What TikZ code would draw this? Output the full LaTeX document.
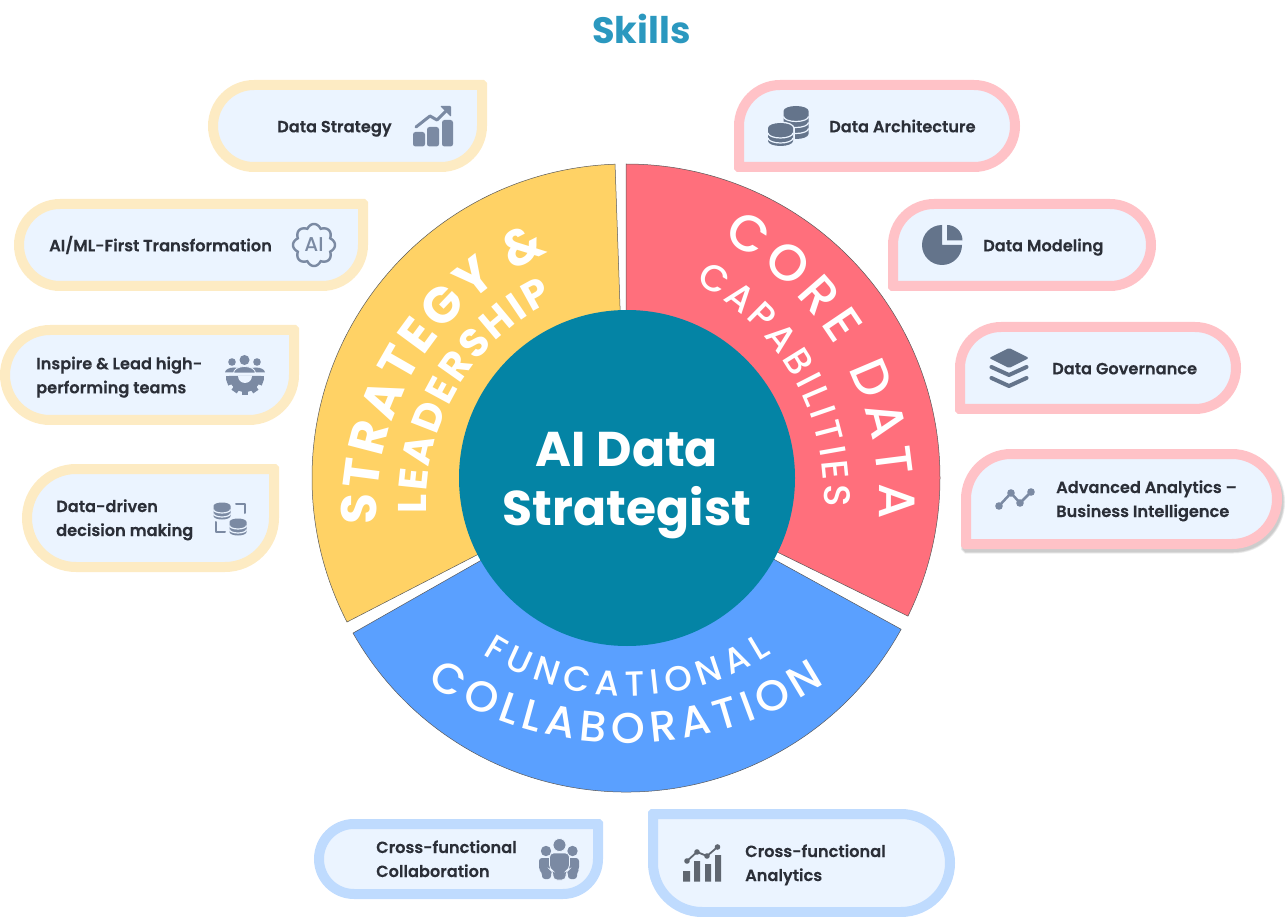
\documentclass[tikz,border=0pt]{standalone}
\usepackage{fontspec}
\setmainfont{Poppins}
\newfontfamily\semib[FakeBold=0.2]{Poppins SemiBold}
\newfontfamily\medi{Poppins Medium}
\usetikzlibrary{decorations.text}
\definecolor{inkc}{HTML}{2B2F38}
\definecolor{panel}{HTML}{EBF4FF}
\definecolor{ybord}{HTML}{FDEBC3}
\definecolor{rbord}{HTML}{FFC2C7}
\definecolor{bbord}{HTML}{BFDBFE}
\definecolor{iconA}{HTML}{7B8AA3}
\definecolor{iconB}{HTML}{64748B}
\definecolor{iconC}{HTML}{5F6670}
\definecolor{secY}{HTML}{FFD265}
\definecolor{secR}{HTML}{FF6F7C}
\definecolor{secB}{HTML}{5AA0FF}
\definecolor{hub}{HTML}{0484A5}
\definecolor{titlec}{HTML}{2B98BF}
\tikzset{
  pill/.style={line width=10pt,fill=panel,line join=miter},
  label/.style={font=\semib\fontsize{16.2}{24}\selectfont,text=inkc,anchor=base west,inner sep=0pt,align=left},
  sector/.style={draw=black!65,line width=0.5pt},
  curved/.style={decorate,decoration={text along path,text color=white,text align={fit to path},text={#1}}},
}
\newcommand\pillpath[8]{({#1+#5},{-#2}) -- ({#3-#6},{-#2}) arc[start angle=90,end angle=0,radius=#6 pt] -- (#3,{-#4+#7}) arc[start angle=0,end angle=-90,radius=#7 pt] -- ({#1+#8},{-#4}) arc[start angle=-90,end angle=-180,radius=#8 pt] -- (#1,{-#2-#5}) arc[start angle=180,end angle=90,radius=#5 pt] -- cycle}
\newcommand\coin[7]{%
  \fill[#7] ({#1-#3},{-#2}) -- ({#1-#3},{-#2-#5}) arc[start angle=180,end angle=360,x radius=#3 pt,y radius=#4 pt] -- ({#1+#3},{-#2}) arc[start angle=0,end angle=180,x radius=#3 pt,y radius=#4 pt] -- cycle;
  \foreach \k in {#6} \draw[panel,line width=1.2pt] ({#1-#3},{-#2-\k}) arc[start angle=180,end angle=360,x radius=#3 pt,y radius=#4 pt];
}
\newcommand\arctext[6]{\path[shift={(#1,-#2)},curved={#6}] (#4:#3 pt) arc[start angle=#4,end angle=#5,radius=#3 pt];}
\newcommand\strongtype{\fontsize{50}{50}\selectfont\bfseries}
\newcommand\strongsub{\fontsize{40}{40}\selectfont\bfseries}
\newcommand\bigtype{\medi\fontsize{51}{51}\selectfont}
\newcommand\subtype{\medi\fontsize{37}{37}\selectfont}
\newcommand\bluetop{\medi\fontsize{35}{35}\selectfont}
\newcommand\bluebig{\medi\fontsize{43}{43}\selectfont}
\begin{document}
\begin{tikzpicture}[x=1pt,y=1pt]
\useasboundingbox (0,0) rectangle (1286,-917);
\node[font=\bfseries\fontsize{36.7}{36}\selectfont,text=titlec,anchor=base] (title) at (641.5,-44) {Skills};

% ring
\begin{scope}[shift={(626,-478)}]
  \draw[sector,fill=secY] (92:314pt) arc[start angle=92,end angle=207.3,radius=314pt] -- (0,0) -- cycle;
  \draw[sector,fill=secR] (90:314pt) arc[start angle=90,end angle=-26.1,radius=314pt] -- (0,0) -- cycle;
  \draw[sector,fill=secB] (209.6:314pt) arc[start angle=209.6,end angle=331.2,radius=314pt] -- (0,0) -- cycle;
\end{scope}
\arctext{658}{512}{281}{182.6}{113}{|\strongtype|STRATEGY {\&}}
\arctext{651}{504}{225}{182.4}{115.6}{|\strongsub|LEADERSHIP}
\arctext{584}{500}{295}{62.1}{-3.7}{|\bigtype|CORE DATA}
\arctext{587}{494}{237}{62.9}{-3}{|\subtype|CAPABILITIES}
\arctext{627}{426}{270}{237.6}{302.4}{|\bluetop|FUNCATIONAL}
\arctext{626}{381}{362}{236.6}{303.4}{|\bluebig|COLLABORATION}
\node[circle,fill=hub,minimum size=336pt,inner sep=0pt] (hubnode) at (627,-478) {};
\node[text=white,font=\fontsize{48.8}{59}\selectfont\bfseries,align=center,inner sep=0pt] (hubtext) at (627,-486) {AI Data\\Strategist};

% pills yellow
\draw[pill,draw=ybord] \pillpath{213}{85}{482}{167}{41}{0.01}{41}{41};
\draw[pill,draw=ybord] \pillpath{19}{204}{363}{286}{41}{0.01}{41}{41};
\draw[pill,draw=ybord] \pillpath{5}{330}{294}{420}{45}{0.01}{45}{45};
\draw[pill,draw=ybord] \pillpath{27}{469}{274}{567}{49}{0.01}{49}{49};
% pills red
\draw[pill,draw=rbord] \pillpath{739}{85}{1015}{167}{41}{41}{41}{0.01};
\draw[pill,draw=rbord] \pillpath{893}{204}{1151}{286}{41}{41}{41}{0.01};
\draw[pill,draw=rbord] \pillpath{960}{327}{1236}{409}{41}{41}{41}{0.01};
\foreach \w in {13,11.5,10} \draw[black,opacity=0.07,line width=\w pt,line join=miter] [shift={(1.5,-3)}] \pillpath{966}{454}{1277}{544}{45}{45}{45}{0.01};
\draw[pill,draw=rbord] \pillpath{966}{454}{1277}{544}{45}{45}{45}{0.01};
% pills blue
\draw[pill,draw=bbord] \pillpath{319}{824}{598}{894}{35}{0.01}{35}{35};
\draw[pill,draw=bbord] \pillpath{653}{814}{950}{912}{0.01}{49}{49}{49};

% labels
\node[label] (l1) at (277,-132.3) {Data Strategy};
\node[label] (l2) at (49,-251.3) {AI/ML-First Transformation};
\node[label] (l3a) at (36,-369.3) {Inspire \& Lead high-};
\node[label] (l3b) at (36,-393.3) {performing teams};
\node[label] (l4a) at (56,-512) {Data-driven};
\node[label] (l4b) at (56,-536) {decision making};
\node[label] (r1) at (829,-132.3) {Data Architecture};
\node[label] (r2) at (983,-251.3) {Data Modeling};
\node[label] (r3) at (1052,-374.3) {Data Governance};
\node[label] (r4a) at (1056,-493) {Advanced Analytics –};
\node[label] (r4b) at (1056,-517) {Business Intelligence};
\node[label] (b1a) at (376,-853) {Cross-functional};
\node[label] (b1b) at (376,-877) {Collaboration};
\node[label] (b2a) at (745,-857) {Cross-functional};
\node[label] (b2b) at (745,-881) {Analytics};

% icon: data strategy
\fill[iconA,rounded corners=2.5pt] (413,-132) rectangle (425,-146.5);
\fill[iconA,rounded corners=2.5pt] (427,-127) rectangle (439,-146.5);
\fill[iconA,rounded corners=2.5pt] (442,-120) rectangle (453,-146.5);
\draw[iconA,line width=3pt,line cap=round,line join=round] (416,-127) -- (430,-116) -- (437,-120) -- (448,-109);
\fill[iconA,rounded corners=1pt] (440,-106) -- (451,-106) -- (451,-117) -- cycle;

% icon: AI
\draw[iconA,line width=2.4pt] plot[samples=97,domain=0:360,smooth cycle] ({314+cos(\x)*(17.5+3.5*abs(cos(4*\x)))},{-245+sin(\x)*(17.5+3.5*abs(cos(4*\x)))});
\node[font=\medi\fontsize{20}{20}\selectfont,text=iconA,inner sep=0pt] (aiglyph) at (314,-245) {AI};

% icon: team and gear
\fill[iconA] (232,-362) circle[radius=3.8pt] (257,-362) circle[radius=3.8pt] (244.5,-360) circle[radius=5pt];
\fill[iconA] (225,-372.5) arc[start angle=180,end angle=0,x radius=9pt,y radius=5pt] -- cycle;
\fill[iconA] (247,-372.5) arc[start angle=180,end angle=0,x radius=9pt,y radius=5pt] -- cycle;
\fill[iconA,draw=panel,line width=0.8pt] (233.5,-373) arc[start angle=180,end angle=0,x radius=11pt,y radius=6.5pt] -- cycle;
\fill[iconA] (229,-376) arc[start angle=180,end angle=360,radius=16pt] -- cycle;
\foreach \a in {-160,-125,-90,-55,-20} \fill[iconA,shift={(245,-376)},rotate=\a] (13,-3.2) rectangle (19,3.2);
\fill[iconA] (226,-376) rectangle (264,-380);
\fill[panel] (238,-376) arc[start angle=180,end angle=360,radius=7pt] -- cycle;

% icon: data-driven
\coin{222}{506}{8.5}{3.5}{10}{3.5,7.5}{iconA}
\coin{238}{522}{8.5}{3.5}{10}{3.5,7.5}{iconA}
\draw[iconA,line width=2pt,line cap=round,line join=round] (236,-504) -- (244.5,-504) -- (244.5,-513);
\draw[iconA,line width=2pt,line cap=round,line join=round] (216,-522) -- (216,-531.5) -- (225,-531.5);

% icon: coins
\coin{796}{111}{12.5}{5}{23}{5.5,11.5,17.5}{iconB}
\fill[panel] (780.5,-128) ellipse[x radius=14pt,y radius=6.5pt];
\fill[panel] (766.5,-128) rectangle (794.5,-141);
\coin{780.5}{128}{12.5}{5}{13}{5,10}{iconB}

% icon: pie
\fill[iconB] (942,-225) arc[start angle=90,end angle=360,radius=20pt] -- (942,-245) -- cycle;
\fill[iconB] (947,-225) arc[start angle=90,end angle=0,radius=15.5pt] -- (947,-240.5) -- cycle;

% icon: layers
\fill[iconB,rounded corners=1.5pt] (1009,-348) -- (1029,-358) -- (1009,-368) -- (989,-358) -- cycle;
\draw[iconB,line width=4pt,line cap=round,line join=round] (991.5,-367) -- (1009,-375) -- (1026.5,-367);
\draw[iconB,line width=4pt,line cap=round,line join=round] (991.5,-378) -- (1009,-386) -- (1026.5,-378);

% icon: trend
\draw[iconA,line width=2.5pt,line join=round] (999,-506) -- (1011,-493) -- (1020,-503) -- (1031,-492);
\fill[iconA] (999,-506) circle[radius=3.8pt] (1011,-493) circle[radius=3.8pt] (1020,-503) circle[radius=3.8pt] (1031,-492) circle[radius=3.8pt];

% icon: people
\fill[iconA] (546,-851) circle[radius=5.2pt] (572.5,-851) circle[radius=5.2pt];
\fill[iconA,rounded corners=3pt] (539,-858) -- (553,-858) -- (553,-870) -- (551,-872) -- (551,-879) -- (542,-879) -- (542,-872) -- (539,-870) -- cycle;
\fill[iconA,rounded corners=3pt] (566,-858) -- (579,-858) -- (579,-870) -- (577,-872) -- (577,-879) -- (568,-879) -- (568,-872) -- (566,-870) -- cycle;
\fill[iconA,draw=panel,line width=0.8pt] (559.5,-845) circle[radius=6.5pt];
\fill[iconA,draw=panel,line width=0.8pt,rounded corners=4pt] (549.5,-853) -- (569.5,-853) -- (569.5,-869) -- (566,-871) -- (566,-880) -- (553,-880) -- (553,-871) -- (549.5,-869) -- cycle;

% icon: analytics
\fill[iconC] (683,-871) rectangle (690,-881.5) (694,-861) rectangle (700,-881.5) (705,-864) rectangle (711,-881.5) (715,-855) rectangle (721,-881.5);
\draw[iconC,line width=1.8pt] (687,-861) -- (697,-852) -- (707,-856) -- (717.5,-847);
\fill[iconC] (687,-861) circle[radius=2.8pt] (697,-852) circle[radius=2.8pt] (707,-856) circle[radius=2.8pt] (717.5,-847) circle[radius=2.8pt];
\end{tikzpicture}
\end{document}
